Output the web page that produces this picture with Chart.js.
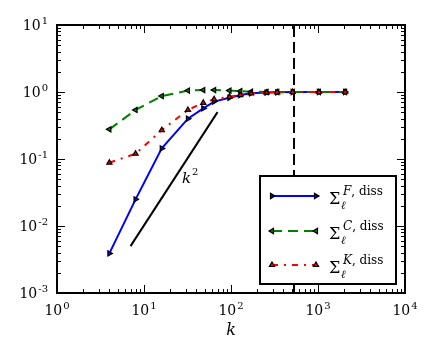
<!DOCTYPE html>
<html><head><meta charset="utf-8">
<script src="https://cdn.jsdelivr.net/npm/chart.js@4"></script>
<style>html,body{margin:0;padding:0;background:#fff}#wrap{width:436px;height:360px}</style>
</head><body><div id="wrap"><canvas id="c" width="436" height="360"></canvas></div>
<script>
// ---- data ----
const kValues = [4, 8, 16, 32, 48, 64, 96, 128, 170, 256, 340, 512, 1024, 2048];
const sigmaF  = [0.0039, 0.025, 0.144, 0.40, 0.57, 0.72, 0.82, 0.90, 0.955, 0.98, 0.99, 1.0, 1.0, 1.0];
const sigmaC  = [0.277, 0.54, 0.87, 1.05, 1.07, 1.07, 1.05, 1.03, 1.01, 1.0, 1.0, 1.0, 1.0, 1.0];
const sigmaK  = [0.088, 0.12, 0.27, 0.54, 0.69, 0.78, 0.85, 0.90, 0.95, 0.98, 0.99, 1.0, 1.0, 1.0];
const refK = [7, 70];
const refSlope = [0.005, 0.5];
const dissK = 530;
const dissY = [0.001, 10];
const xTickPowers = [0, 1, 2, 3, 4];
const yTickPowers = [-3, -2, -1, 0, 1];
const seriesNames = ['F', 'C', 'K'];
const xLabel = 'k';
const slopeLabel = ['k', '2'];

const colors = ['#0000ff', '#008000', '#ff0000'];
const dashes = [[], [10, 6], [6, 6, 2, 6]];
const rotations = [90, 270, 0];
const seriesVals = [sigmaF, sigmaC, sigmaK];

const pts = (xs, ys) => xs.map((x, i) => ({x, y: ys[i]}));

const datasets = seriesVals.map((vals, i) => ({
  data: pts(kValues, vals),
  borderColor: colors[i],
  borderWidth: 2,
  borderDash: dashes[i],
  pointStyle: 'triangle',
  rotation: rotations[i],
  pointRadius: 3,
  pointBackgroundColor: colors[i],
  pointBorderColor: '#000',
  pointBorderWidth: 1.2,
  tension: 0,
  order: 3 - i
}));
datasets.push({
  data: pts(refK, refSlope), borderColor: '#000', borderWidth: 2, pointRadius: 0, tension: 0, order: 5
});
datasets.push({
  data: pts([dissK, dissK], dissY), borderColor: '#000', borderWidth: 2, borderDash: [11, 5], pointRadius: 0, tension: 0, order: 6
});

function tri(ctx, x, y, r, rotDeg, fill) {
  let rad = rotDeg * Math.PI / 180;
  ctx.beginPath();
  for (let k = 0; k < 3; k++) {
    const px = x + Math.sin(rad) * r, py = y - Math.cos(rad) * r;
    if (k === 0) ctx.moveTo(px, py); else ctx.lineTo(px, py);
    rad += 2 * Math.PI / 3;
  }
  ctx.closePath();
  ctx.fillStyle = fill; ctx.fill();
  ctx.setLineDash([]); ctx.lineWidth = 1.2; ctx.strokeStyle = '#000'; ctx.stroke();
}

const SERIF = '"DejaVu Serif", serif';

function powLabel(ctx, exp, x, y, mode) {
  const base = '10', e = String(exp);
  ctx.font = '14px ' + SERIF;
  const wb = ctx.measureText(base).width;
  ctx.font = '10px ' + SERIF;
  const we = ctx.measureText(e).width;
  const total = wb + we + 1;
  let sx = mode === 'center' ? x - total / 2 : x - total;
  ctx.fillStyle = '#000';
  ctx.textAlign = 'left';
  ctx.textBaseline = 'alphabetic';
  ctx.font = '14px ' + SERIF;
  ctx.fillText(base, sx, y);
  ctx.font = '10px ' + SERIF;
  ctx.fillText(e, sx + wb + 1, y - 6);
}

const deco = {
  id: 'deco',
  afterDatasetsDraw(chart) {
    const {ctx, chartArea: a, scales: {x, y}} = chart;
    ctx.save();
    ctx.setLineDash([]);
    ctx.strokeStyle = '#000';
    // ticks
    ctx.lineWidth = 1;
    for (let p = 0; p < 4; p++) {
      for (let m = 1; m <= 9; m++) {
        const v = Math.pow(10, p) * m;
        const px = Math.round(x.getPixelForValue(v)) + 0.5;
        const len = m === 1 ? 8 : 4;
        ctx.beginPath();
        ctx.moveTo(px, a.bottom); ctx.lineTo(px, a.bottom - len);
        ctx.moveTo(px, a.top); ctx.lineTo(px, a.top + len);
        ctx.stroke();
      }
    }
    for (let p = -3; p < 1; p++) {
      for (let m = 1; m <= 9; m++) {
        const v = Math.pow(10, p) * m;
        const py = Math.round(y.getPixelForValue(v)) + 0.5;
        const len = m === 1 ? 8 : 4;
        ctx.beginPath();
        ctx.moveTo(a.left, py); ctx.lineTo(a.left + len, py);
        ctx.moveTo(a.right, py); ctx.lineTo(a.right - len, py);
        ctx.stroke();
      }
    }
    // frame
    ctx.lineWidth = 2;
    ctx.strokeRect(a.left, a.top, a.right - a.left, a.bottom - a.top);
    // tick labels
    xTickPowers.forEach(p => powLabel(ctx, p, x.getPixelForValue(Math.pow(10, p)), a.bottom + 22, 'center'));
    yTickPowers.forEach(p => powLabel(ctx, p, a.left - 9, y.getPixelForValue(Math.pow(10, p)) + 5, 'right'));
    // axis label
    ctx.font = 'italic 16px ' + SERIF;
    ctx.textAlign = 'center';
    ctx.fillText(xLabel, (a.left + a.right) / 2, 335);
    // slope annotation
    ctx.textAlign = 'left';
    ctx.font = 'italic 15px ' + SERIF;
    ctx.fillText(slopeLabel[0], 182, 183);
    ctx.font = '10px ' + SERIF;
    ctx.fillText(slopeLabel[1], 192, 175);
    // legend
    const L = 260, T = 176, R = 396, B = 284;
    ctx.fillStyle = '#fff';
    ctx.fillRect(L, T, R - L, B - T);
    ctx.lineWidth = 2; ctx.strokeStyle = '#000';
    ctx.strokeRect(L, T, R - L, B - T);
    const rows = [196, 231, 265];
    rows.forEach((ry, i) => {
      ctx.beginPath();
      ctx.setLineDash(dashes[i]);
      ctx.lineWidth = 2; ctx.strokeStyle = colors[i];
      ctx.moveTo(272, ry); ctx.lineTo(316, ry); ctx.stroke();
      tri(ctx, 272, ry, 3, rotations[i], colors[i]);
      tri(ctx, 316, ry, 3, rotations[i], colors[i]);
      ctx.fillStyle = '#000';
      ctx.textAlign = 'left';
      ctx.font = '16px ' + SERIF;
      ctx.fillText('\u03A3', 329, ry + 8);
      ctx.font = 'italic 11px ' + SERIF;
      ctx.fillText('\u2113', 341, ry + 13);
      ctx.font = 'italic 12px ' + SERIF;
      ctx.fillText(seriesNames[i], 343, ry - 1);
      const wn = ctx.measureText(seriesNames[i]).width;
      ctx.font = '12px ' + SERIF;
      ctx.fillText(', diss', 343 + wn, ry - 1);
    });
    ctx.restore();
  }
};

new Chart(document.getElementById('c'), {
  type: 'line',
  data: {datasets},
  options: {
    responsive: false,
    animation: false,
    devicePixelRatio: 1,
    layout: {padding: {top: 25, right: 31, left: 0, bottom: 0}},
    plugins: {legend: {display: false}, tooltip: {enabled: false}},
    scales: {
      x: {type: 'logarithmic', min: 1, max: 10000,
          ticks: {display: false}, grid: {display: false, drawTicks: false}, border: {display: false},
          afterFit: s => { s.height = 67; }},
      y: {type: 'logarithmic', min: 0.001, max: 10,
          ticks: {display: false}, grid: {display: false, drawTicks: false}, border: {display: false},
          afterFit: s => { s.width = 57; }}
    }
  },
  plugins: [deco]
});
</script>
</body></html>
